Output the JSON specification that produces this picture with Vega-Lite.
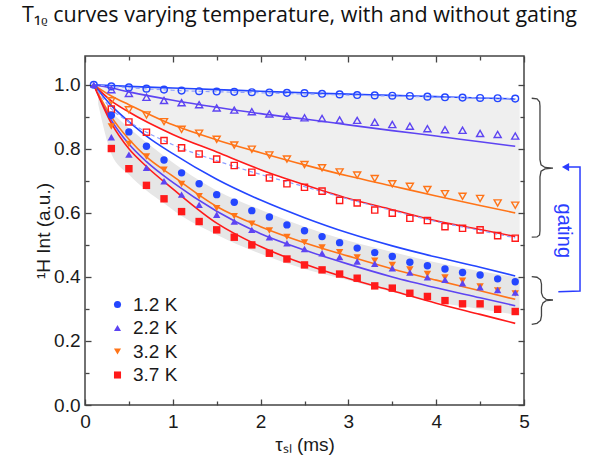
{
"$schema":"https://vega.github.io/schema/vega-lite/v6.json",
"width":439,"height":349,
"autosize":{"type":"none"},
"padding":{"left":85,"top":56,"right":66,"bottom":57},
"title":{"text":"T₁ᵨ curves varying temperature, with and without gating","anchor":"start","frame":"group","dx":-63,"offset":29,"font":"Open Sans","fontSize":21.5,"fontWeight":"normal","color":"#111"},
"config":{"view":{"stroke":"#444","strokeWidth":1.5},
"axis":{"labelFont":"Liberation Sans","titleFont":"Liberation Sans","labelFontSize":19,"titleFontSize":19,"labelColor":"#1a1a1a","titleColor":"#1a1a1a","titleFontWeight":"normal","grid":false,"domain":false,"tickColor":"#444","tickWidth":1.3,"labelFlush":false}},
"resolve":{"axis":{"x":"independent","y":"independent"}},
"datasets":{
"band1":[{"x":0.1,"y":1.0,"y2":1.0},{"x":0.3,"y":0.997,"y2":0.95},{"x":0.5,"y":0.995,"y2":0.915},{"x":1,"y":0.99,"y2":0.845},{"x":1.5,"y":0.985,"y2":0.79},{"x":2,"y":0.98,"y2":0.735},{"x":2.5,"y":0.975,"y2":0.688},{"x":3,"y":0.971,"y2":0.645},{"x":3.5,"y":0.967,"y2":0.61},{"x":4,"y":0.963,"y2":0.575},{"x":4.5,"y":0.959,"y2":0.548},{"x":4.95,"y":0.956,"y2":0.523}],
"band2":[{"x":0.15,"y":0.96,"y2":0.94},{"x":0.3,"y":0.915,"y2":0.785},{"x":0.5,"y":0.865,"y2":0.72},{"x":0.7,"y":0.82,"y2":0.67},{"x":0.9,"y":0.778,"y2":0.63},{"x":1.1,"y":0.738,"y2":0.59},{"x":1.5,"y":0.67,"y2":0.532},{"x":2,"y":0.61,"y2":0.472},{"x":2.5,"y":0.557,"y2":0.425},{"x":3,"y":0.513,"y2":0.39},{"x":3.5,"y":0.478,"y2":0.353},{"x":4,"y":0.445,"y2":0.322},{"x":4.5,"y":0.418,"y2":0.3},{"x":4.95,"y":0.398,"y2":0.28}],
"fits":[
{"g":"U","s":"1.2 K","x":0.1,"y":1.0},{"g":"U","s":"1.2 K","x":0.5,"y":0.995},{"g":"U","s":"1.2 K","x":1,"y":0.99},{"g":"U","s":"1.2 K","x":1.5,"y":0.985},{"g":"U","s":"1.2 K","x":2,"y":0.98},{"g":"U","s":"1.2 K","x":2.5,"y":0.975},{"g":"U","s":"1.2 K","x":3,"y":0.971},{"g":"U","s":"1.2 K","x":3.5,"y":0.967},{"g":"U","s":"1.2 K","x":4,"y":0.963},{"g":"U","s":"1.2 K","x":4.5,"y":0.959},{"g":"U","s":"1.2 K","x":4.9,"y":0.956},
{"g":"U","s":"2.2 K","x":0.1,"y":1.0},{"g":"U","s":"2.2 K","x":0.3,"y":0.99},{"g":"U","s":"2.2 K","x":0.5,"y":0.978},{"g":"U","s":"2.2 K","x":1,"y":0.952},{"g":"U","s":"2.2 K","x":1.5,"y":0.93},{"g":"U","s":"2.2 K","x":2,"y":0.91},{"g":"U","s":"2.2 K","x":2.5,"y":0.893},{"g":"U","s":"2.2 K","x":3,"y":0.875},{"g":"U","s":"2.2 K","x":3.5,"y":0.857},{"g":"U","s":"2.2 K","x":4,"y":0.84},{"g":"U","s":"2.2 K","x":4.5,"y":0.822},{"g":"U","s":"2.2 K","x":4.9,"y":0.808},
{"g":"U","s":"3.2 K","x":0.1,"y":1.0},{"g":"U","s":"3.2 K","x":0.3,"y":0.965},{"g":"U","s":"3.2 K","x":0.5,"y":0.938},{"g":"U","s":"3.2 K","x":1,"y":0.875},{"g":"U","s":"3.2 K","x":1.5,"y":0.828},{"g":"U","s":"3.2 K","x":2,"y":0.788},{"g":"U","s":"3.2 K","x":2.5,"y":0.75},{"g":"U","s":"3.2 K","x":3,"y":0.715},{"g":"U","s":"3.2 K","x":3.5,"y":0.684},{"g":"U","s":"3.2 K","x":4,"y":0.653},{"g":"U","s":"3.2 K","x":4.5,"y":0.623},{"g":"U","s":"3.2 K","x":4.9,"y":0.6},
{"g":"U","s":"3.7 K","x":0.1,"y":1.0},{"g":"U","s":"3.7 K","x":0.3,"y":0.95},{"g":"U","s":"3.7 K","x":0.5,"y":0.915},{"g":"U","s":"3.7 K","x":1,"y":0.845},{"g":"U","s":"3.7 K","x":1.5,"y":0.79},{"g":"U","s":"3.7 K","x":2,"y":0.735},{"g":"U","s":"3.7 K","x":2.5,"y":0.688},{"g":"U","s":"3.7 K","x":3,"y":0.645},{"g":"U","s":"3.7 K","x":3.5,"y":0.61},{"g":"U","s":"3.7 K","x":4,"y":0.575},{"g":"U","s":"3.7 K","x":4.5,"y":0.548},{"g":"U","s":"3.7 K","x":4.9,"y":0.526},
{"g":"G","s":"1.2 K","x":0.1,"y":1.0},{"g":"G","s":"1.2 K","x":0.3,"y":0.935},{"g":"G","s":"1.2 K","x":0.5,"y":0.885},{"g":"G","s":"1.2 K","x":0.7,"y":0.84},{"g":"G","s":"1.2 K","x":1,"y":0.785},{"g":"G","s":"1.2 K","x":1.5,"y":0.705},{"g":"G","s":"1.2 K","x":2,"y":0.64},{"g":"G","s":"1.2 K","x":2.5,"y":0.585},{"g":"G","s":"1.2 K","x":3,"y":0.537},{"g":"G","s":"1.2 K","x":3.5,"y":0.497},{"g":"G","s":"1.2 K","x":4,"y":0.462},{"g":"G","s":"1.2 K","x":4.5,"y":0.43},{"g":"G","s":"1.2 K","x":4.9,"y":0.403},
{"g":"G","s":"2.2 K","x":0.1,"y":1.0},{"g":"G","s":"2.2 K","x":0.3,"y":0.89},{"g":"G","s":"2.2 K","x":0.5,"y":0.815},{"g":"G","s":"2.2 K","x":0.7,"y":0.76},{"g":"G","s":"2.2 K","x":1,"y":0.695},{"g":"G","s":"2.2 K","x":1.5,"y":0.605},{"g":"G","s":"2.2 K","x":2,"y":0.535},{"g":"G","s":"2.2 K","x":2.5,"y":0.484},{"g":"G","s":"2.2 K","x":3,"y":0.44},{"g":"G","s":"2.2 K","x":3.5,"y":0.4},{"g":"G","s":"2.2 K","x":4,"y":0.366},{"g":"G","s":"2.2 K","x":4.5,"y":0.335},{"g":"G","s":"2.2 K","x":4.9,"y":0.31},
{"g":"G","s":"3.2 K","x":0.1,"y":1.0},{"g":"G","s":"3.2 K","x":0.3,"y":0.9},{"g":"G","s":"3.2 K","x":0.5,"y":0.83},{"g":"G","s":"3.2 K","x":0.7,"y":0.775},{"g":"G","s":"3.2 K","x":1,"y":0.715},{"g":"G","s":"3.2 K","x":1.5,"y":0.62},{"g":"G","s":"3.2 K","x":2,"y":0.557},{"g":"G","s":"3.2 K","x":2.5,"y":0.507},{"g":"G","s":"3.2 K","x":3,"y":0.465},{"g":"G","s":"3.2 K","x":3.5,"y":0.425},{"g":"G","s":"3.2 K","x":4,"y":0.39},{"g":"G","s":"3.2 K","x":4.5,"y":0.357},{"g":"G","s":"3.2 K","x":4.9,"y":0.33},
{"g":"G","s":"3.7 K","x":0.1,"y":1.0},{"g":"G","s":"3.7 K","x":0.3,"y":0.88},{"g":"G","s":"3.7 K","x":0.5,"y":0.8},{"g":"G","s":"3.7 K","x":0.7,"y":0.745},{"g":"G","s":"3.7 K","x":1,"y":0.675},{"g":"G","s":"3.7 K","x":1.5,"y":0.568},{"g":"G","s":"3.7 K","x":2,"y":0.495},{"g":"G","s":"3.7 K","x":2.5,"y":0.44},{"g":"G","s":"3.7 K","x":3,"y":0.395},{"g":"G","s":"3.7 K","x":3.5,"y":0.357},{"g":"G","s":"3.7 K","x":4,"y":0.318},{"g":"G","s":"3.7 K","x":4.5,"y":0.283},{"g":"G","s":"3.7 K","x":4.9,"y":0.255}],
"dash":[
{"d":"a","x":0.1,"y":1.0},{"d":"a","x":0.3,"y":0.925},{"d":"a","x":0.5,"y":0.885},{"d":"a","x":1,"y":0.813},{"d":"a","x":1.5,"y":0.763},{"d":"a","x":2,"y":0.72},{"d":"a","x":2.5,"y":0.682},{"d":"a","x":3,"y":0.643},{"d":"a","x":3.5,"y":0.607},{"d":"a","x":4,"y":0.573},{"d":"a","x":4.5,"y":0.545},{"d":"a","x":4.9,"y":0.522},
{"d":"b","x":0.1,"y":1.0},{"d":"b","x":0.5,"y":0.991},{"d":"b","x":1,"y":0.983},{"d":"b","x":2,"y":0.975},{"d":"b","x":3,"y":0.968},{"d":"b","x":4,"y":0.962},{"d":"b","x":4.9,"y":0.957}],
"open":[
{"s":"1.2 K","x":0.1,"y":1.0},{"s":"1.2 K","x":0.3,"y":0.995},{"s":"1.2 K","x":0.5,"y":0.992},{"s":"1.2 K","x":0.7,"y":0.988},{"s":"1.2 K","x":0.9,"y":0.985},{"s":"1.2 K","x":1.1,"y":0.982},{"s":"1.2 K","x":1.3,"y":0.98},{"s":"1.2 K","x":1.5,"y":0.979},{"s":"1.2 K","x":1.7,"y":0.978},{"s":"1.2 K","x":1.9,"y":0.977},{"s":"1.2 K","x":2.1,"y":0.976},{"s":"1.2 K","x":2.3,"y":0.975},{"s":"1.2 K","x":2.5,"y":0.974},{"s":"1.2 K","x":2.7,"y":0.972},{"s":"1.2 K","x":2.9,"y":0.97},{"s":"1.2 K","x":3.1,"y":0.968},{"s":"1.2 K","x":3.3,"y":0.967},{"s":"1.2 K","x":3.5,"y":0.966},{"s":"1.2 K","x":3.7,"y":0.965},{"s":"1.2 K","x":3.9,"y":0.963},{"s":"1.2 K","x":4.1,"y":0.961},{"s":"1.2 K","x":4.3,"y":0.96},{"s":"1.2 K","x":4.5,"y":0.959},{"s":"1.2 K","x":4.7,"y":0.958},{"s":"1.2 K","x":4.9,"y":0.957},
{"s":"2.2 K","x":0.3,"y":0.985},{"s":"2.2 K","x":0.5,"y":0.973},{"s":"2.2 K","x":0.7,"y":0.961},{"s":"2.2 K","x":0.9,"y":0.951},{"s":"2.2 K","x":1.1,"y":0.944},{"s":"2.2 K","x":1.3,"y":0.938},{"s":"2.2 K","x":1.5,"y":0.928},{"s":"2.2 K","x":1.7,"y":0.921},{"s":"2.2 K","x":1.9,"y":0.916},{"s":"2.2 K","x":2.1,"y":0.909},{"s":"2.2 K","x":2.3,"y":0.902},{"s":"2.2 K","x":2.5,"y":0.897},{"s":"2.2 K","x":2.7,"y":0.895},{"s":"2.2 K","x":2.9,"y":0.89},{"s":"2.2 K","x":3.1,"y":0.889},{"s":"2.2 K","x":3.3,"y":0.883},{"s":"2.2 K","x":3.5,"y":0.876},{"s":"2.2 K","x":3.7,"y":0.871},{"s":"2.2 K","x":3.9,"y":0.863},{"s":"2.2 K","x":4.1,"y":0.86},{"s":"2.2 K","x":4.3,"y":0.858},{"s":"2.2 K","x":4.5,"y":0.848},{"s":"2.2 K","x":4.7,"y":0.845},{"s":"2.2 K","x":4.9,"y":0.84},
{"s":"3.2 K","x":0.3,"y":0.95},{"s":"3.2 K","x":0.5,"y":0.922},{"s":"3.2 K","x":0.7,"y":0.906},{"s":"3.2 K","x":0.9,"y":0.885},{"s":"3.2 K","x":1.1,"y":0.861},{"s":"3.2 K","x":1.3,"y":0.849},{"s":"3.2 K","x":1.5,"y":0.83},{"s":"3.2 K","x":1.7,"y":0.812},{"s":"3.2 K","x":1.9,"y":0.799},{"s":"3.2 K","x":2.1,"y":0.781},{"s":"3.2 K","x":2.3,"y":0.768},{"s":"3.2 K","x":2.5,"y":0.751},{"s":"3.2 K","x":2.7,"y":0.741},{"s":"3.2 K","x":2.9,"y":0.728},{"s":"3.2 K","x":3.1,"y":0.718},{"s":"3.2 K","x":3.3,"y":0.707},{"s":"3.2 K","x":3.5,"y":0.691},{"s":"3.2 K","x":3.7,"y":0.683},{"s":"3.2 K","x":3.9,"y":0.673},{"s":"3.2 K","x":4.1,"y":0.66},{"s":"3.2 K","x":4.3,"y":0.652},{"s":"3.2 K","x":4.5,"y":0.645},{"s":"3.2 K","x":4.7,"y":0.631},{"s":"3.2 K","x":4.9,"y":0.624},
{"s":"3.7 K","x":0.3,"y":0.924},{"s":"3.7 K","x":0.5,"y":0.884},{"s":"3.7 K","x":0.7,"y":0.852},{"s":"3.7 K","x":0.9,"y":0.826},{"s":"3.7 K","x":1.1,"y":0.803},{"s":"3.7 K","x":1.3,"y":0.784},{"s":"3.7 K","x":1.5,"y":0.768},{"s":"3.7 K","x":1.7,"y":0.748},{"s":"3.7 K","x":1.9,"y":0.727},{"s":"3.7 K","x":2.1,"y":0.709},{"s":"3.7 K","x":2.3,"y":0.691},{"s":"3.7 K","x":2.5,"y":0.68},{"s":"3.7 K","x":2.7,"y":0.668},{"s":"3.7 K","x":2.9,"y":0.639},{"s":"3.7 K","x":3.1,"y":0.631},{"s":"3.7 K","x":3.3,"y":0.609},{"s":"3.7 K","x":3.5,"y":0.599},{"s":"3.7 K","x":3.7,"y":0.583},{"s":"3.7 K","x":3.9,"y":0.576},{"s":"3.7 K","x":4.1,"y":0.557},{"s":"3.7 K","x":4.3,"y":0.552},{"s":"3.7 K","x":4.5,"y":0.547},{"s":"3.7 K","x":4.7,"y":0.529},{"s":"3.7 K","x":4.9,"y":0.521}],
"filled":[
{"s":"3.2 K","x":0.3,"y":0.87},{"s":"3.2 K","x":0.5,"y":0.815},{"s":"3.2 K","x":0.7,"y":0.776},{"s":"3.2 K","x":0.9,"y":0.735},{"s":"3.2 K","x":1.1,"y":0.69},{"s":"3.2 K","x":1.3,"y":0.652},{"s":"3.2 K","x":1.5,"y":0.615},{"s":"3.2 K","x":1.7,"y":0.59},{"s":"3.2 K","x":1.9,"y":0.566},{"s":"3.2 K","x":2.1,"y":0.545},{"s":"3.2 K","x":2.3,"y":0.525},{"s":"3.2 K","x":2.5,"y":0.508},{"s":"3.2 K","x":2.7,"y":0.492},{"s":"3.2 K","x":2.9,"y":0.477},{"s":"3.2 K","x":3.1,"y":0.461},{"s":"3.2 K","x":3.3,"y":0.451},{"s":"3.2 K","x":3.5,"y":0.437},{"s":"3.2 K","x":3.7,"y":0.423},{"s":"3.2 K","x":3.9,"y":0.409},{"s":"3.2 K","x":4.1,"y":0.398},{"s":"3.2 K","x":4.3,"y":0.388},{"s":"3.2 K","x":4.5,"y":0.37},{"s":"3.2 K","x":4.7,"y":0.358},{"s":"3.2 K","x":4.9,"y":0.348},
{"s":"2.2 K","x":0.3,"y":0.836},{"s":"2.2 K","x":0.5,"y":0.782},{"s":"2.2 K","x":0.7,"y":0.741},{"s":"2.2 K","x":0.9,"y":0.699},{"s":"2.2 K","x":1.1,"y":0.657},{"s":"2.2 K","x":1.3,"y":0.625},{"s":"2.2 K","x":1.5,"y":0.594},{"s":"2.2 K","x":1.7,"y":0.573},{"s":"2.2 K","x":1.9,"y":0.547},{"s":"2.2 K","x":2.1,"y":0.524},{"s":"2.2 K","x":2.3,"y":0.505},{"s":"2.2 K","x":2.5,"y":0.487},{"s":"2.2 K","x":2.7,"y":0.474},{"s":"2.2 K","x":2.9,"y":0.462},{"s":"2.2 K","x":3.1,"y":0.448},{"s":"2.2 K","x":3.3,"y":0.441},{"s":"2.2 K","x":3.5,"y":0.427},{"s":"2.2 K","x":3.7,"y":0.414},{"s":"2.2 K","x":3.9,"y":0.399},{"s":"2.2 K","x":4.1,"y":0.391},{"s":"2.2 K","x":4.3,"y":0.38},{"s":"2.2 K","x":4.5,"y":0.368},{"s":"2.2 K","x":4.7,"y":0.359},{"s":"2.2 K","x":4.9,"y":0.351},
{"s":"1.2 K","x":0.3,"y":0.905},{"s":"1.2 K","x":0.5,"y":0.853},{"s":"1.2 K","x":0.7,"y":0.808},{"s":"1.2 K","x":0.9,"y":0.765},{"s":"1.2 K","x":1.1,"y":0.725},{"s":"1.2 K","x":1.3,"y":0.691},{"s":"1.2 K","x":1.5,"y":0.657},{"s":"1.2 K","x":1.7,"y":0.633},{"s":"1.2 K","x":1.9,"y":0.607},{"s":"1.2 K","x":2.1,"y":0.587},{"s":"1.2 K","x":2.3,"y":0.5625},{"s":"1.2 K","x":2.5,"y":0.544},{"s":"1.2 K","x":2.7,"y":0.526},{"s":"1.2 K","x":2.9,"y":0.507},{"s":"1.2 K","x":3.1,"y":0.49},{"s":"1.2 K","x":3.3,"y":0.476},{"s":"1.2 K","x":3.5,"y":0.464},{"s":"1.2 K","x":3.7,"y":0.446},{"s":"1.2 K","x":3.9,"y":0.435},{"s":"1.2 K","x":4.1,"y":0.425},{"s":"1.2 K","x":4.3,"y":0.414},{"s":"1.2 K","x":4.5,"y":0.406},{"s":"1.2 K","x":4.7,"y":0.394},{"s":"1.2 K","x":4.9,"y":0.385},
{"s":"3.7 K","x":0.3,"y":0.801},{"s":"3.7 K","x":0.5,"y":0.738},{"s":"3.7 K","x":0.7,"y":0.686},{"s":"3.7 K","x":0.9,"y":0.644},{"s":"3.7 K","x":1.1,"y":0.604},{"s":"3.7 K","x":1.3,"y":0.573},{"s":"3.7 K","x":1.5,"y":0.547},{"s":"3.7 K","x":1.7,"y":0.524},{"s":"3.7 K","x":1.9,"y":0.5},{"s":"3.7 K","x":2.1,"y":0.474},{"s":"3.7 K","x":2.3,"y":0.456},{"s":"3.7 K","x":2.5,"y":0.4375},{"s":"3.7 K","x":2.7,"y":0.422},{"s":"3.7 K","x":2.9,"y":0.409},{"s":"3.7 K","x":3.1,"y":0.396},{"s":"3.7 K","x":3.3,"y":0.372},{"s":"3.7 K","x":3.5,"y":0.365},{"s":"3.7 K","x":3.7,"y":0.349},{"s":"3.7 K","x":3.9,"y":0.339},{"s":"3.7 K","x":4.1,"y":0.326},{"s":"3.7 K","x":4.3,"y":0.316},{"s":"3.7 K","x":4.5,"y":0.316},{"s":"3.7 K","x":4.7,"y":0.299},{"s":"3.7 K","x":4.9,"y":0.292},
{"s":"2.2 K","x":0.1,"y":1.0}],
"brace":[
{"b":"u","o":1,"x":5.088,"y":0.958},{"b":"u","o":2,"x":5.148,"y":0.956},{"b":"u","o":3,"x":5.177,"y":0.947},{"b":"u","o":4,"x":5.182,"y":0.934},{"b":"u","o":5,"x":5.182,"y":0.766},{"b":"u","o":6,"x":5.194,"y":0.75},{"b":"u","o":7,"x":5.239,"y":0.742},{"b":"u","o":8,"x":5.33,"y":0.74},{"b":"u","o":9,"x":5.239,"y":0.7375},{"b":"u","o":10,"x":5.194,"y":0.73},{"b":"u","o":11,"x":5.182,"y":0.7125},{"b":"u","o":12,"x":5.182,"y":0.544},{"b":"u","o":13,"x":5.177,"y":0.531},{"b":"u","o":14,"x":5.148,"y":0.525},{"b":"u","o":15,"x":5.088,"y":0.524},
{"b":"l","o":1,"x":5.088,"y":0.401},{"b":"l","o":2,"x":5.148,"y":0.399},{"b":"l","o":3,"x":5.188,"y":0.391},{"b":"l","o":4,"x":5.199,"y":0.378},{"b":"l","o":5,"x":5.199,"y":0.35},{"b":"l","o":6,"x":5.216,"y":0.3375},{"b":"l","o":7,"x":5.251,"y":0.33},{"b":"l","o":8,"x":5.33,"y":0.328},{"b":"l","o":9,"x":5.251,"y":0.326},{"b":"l","o":10,"x":5.216,"y":0.319},{"b":"l","o":11,"x":5.199,"y":0.306},{"b":"l","o":12,"x":5.199,"y":0.278},{"b":"l","o":13,"x":5.188,"y":0.264},{"b":"l","o":14,"x":5.148,"y":0.255},{"b":"l","o":15,"x":5.088,"y":0.252}],
"arrow":[{"o":1,"x":5.391,"y":0.354},{"o":2,"x":5.638,"y":0.356},{"o":3,"x":5.638,"y":0.743},{"o":4,"x":5.5,"y":0.743}],
"head":[{"x":5.473,"y":0.743}],
"note":[{"x":5.45,"y":0.544,"t":"gating"}]
},
"layer":[
{"data":{"name":"band1"},"mark":{"type":"area","color":"#efefef","interpolate":"monotone"},
"encoding":{
"x":{"field":"x","type":"quantitative","scale":{"domain":[0,5],"nice":false},"axis":{"orient":"bottom","values":[0,1,2,3,4,5],"ticks":false,"labelPadding":7,"title":"τₛₗ (ms)","titlePadding":4,"zindex":1}},
"y":{"field":"y","type":"quantitative","scale":{"domain":[0,1.09],"nice":false},"axis":{"orient":"left","values":[0,0.2,0.4,0.6,0.8,1.0],"ticks":false,"format":".1f","labelPadding":5,"title":"¹H Int (a.u.)","titlePadding":0,"zindex":1}},
"y2":{"field":"y2"}}},
{"data":{"name":"band2"},"mark":{"type":"area","color":"#e6e6e6","interpolate":"monotone"},
"encoding":{
"x":{"field":"x","type":"quantitative","scale":{"domain":[0,5],"nice":false},"axis":{"orient":"bottom","values":[0,1,2,3,4,5],"labels":false,"tickSize":-6,"title":null,"zindex":1}},
"y":{"field":"y","type":"quantitative","scale":{"domain":[0,1.09],"nice":false},"axis":{"orient":"left","values":[0,0.2,0.4,0.6,0.8,1.0],"labels":false,"tickSize":-6,"title":null,"zindex":1}},
"y2":{"field":"y2"}}},
{"data":{"name":"fits"},"mark":{"type":"line","strokeWidth":1.6,"interpolate":"monotone"},
"encoding":{
"x":{"field":"x","type":"quantitative","scale":{"domain":[0,5],"nice":false},"axis":{"orient":"bottom","values":[0.5,1.5,2.5,3.5,4.5],"labels":false,"tickSize":-4,"title":null,"zindex":1}},
"y":{"field":"y","type":"quantitative","scale":{"domain":[0,1.09],"nice":false},"axis":{"orient":"left","values":[0.1,0.3,0.5,0.7,0.9],"labels":false,"tickSize":-4,"title":null,"zindex":1}},
"detail":{"field":"g"},
"stroke":{"field":"s","type":"nominal","scale":{"domain":["3.7 K","3.2 K","2.2 K","1.2 K"],"range":["#ff1a1a","#ff7418","#5d44f2","#2446ff"]},"legend":null}}},
{"data":{"name":"dash"},"mark":{"type":"line","strokeWidth":1.2,"strokeDash":[4,3],"color":"#8fa0ff","interpolate":"monotone"},
"encoding":{
"x":{"field":"x","type":"quantitative","scale":{"domain":[0,5],"nice":false},"axis":{"orient":"top","values":[0,1,2,3,4,5],"labels":false,"tickSize":-6,"title":null,"zindex":1}},
"y":{"field":"y","type":"quantitative","scale":{"domain":[0,1.09],"nice":false},"axis":{"orient":"right","values":[0,0.2,0.4,0.6,0.8,1.0],"labels":false,"tickSize":-6,"title":null,"zindex":1}},
"detail":{"field":"d"}}},
{"data":{"name":"open"},"transform":[{"filter":"datum.s === '1.2 K'"}],"mark":{"type":"point","shape":"circle","filled":false,"strokeWidth":1.4,"size":45,"opacity":1},
"encoding":{
"x":{"field":"x","type":"quantitative","scale":{"domain":[0,5],"nice":false},"axis":{"orient":"top","values":[0.5,1.5,2.5,3.5,4.5],"labels":false,"tickSize":-4,"title":null,"zindex":1}},
"y":{"field":"y","type":"quantitative","scale":{"domain":[0,1.09],"nice":false},"axis":{"orient":"right","values":[0.1,0.3,0.5,0.7,0.9],"labels":false,"tickSize":-4,"title":null,"zindex":1}},
"stroke":{"field":"s","type":"nominal","scale":{"domain":["3.7 K","3.2 K","2.2 K","1.2 K"],"range":["#ff1a1a","#ff7418","#5d44f2","#2446ff"]},"legend":null}}},
{"data":{"name":"open"},"transform":[{"filter":"datum.s === '2.2 K'"}],"mark":{"type":"point","shape":"triangle-up","filled":false,"strokeWidth":1.4,"size":50,"opacity":1},
"encoding":{
"x":{"field":"x","type":"quantitative","scale":{"domain":[0,5],"nice":false},"axis":null},
"y":{"field":"y","type":"quantitative","scale":{"domain":[0,1.09],"nice":false},"axis":null},
"stroke":{"field":"s","type":"nominal","scale":{"domain":["3.7 K","3.2 K","2.2 K","1.2 K"],"range":["#ff1a1a","#ff7418","#5d44f2","#2446ff"]},"legend":null}}},
{"data":{"name":"open"},"transform":[{"filter":"datum.s === '3.2 K'"}],"mark":{"type":"point","shape":"triangle-down","filled":false,"strokeWidth":1.4,"size":50,"opacity":1},
"encoding":{
"x":{"field":"x","type":"quantitative","scale":{"domain":[0,5],"nice":false},"axis":null},
"y":{"field":"y","type":"quantitative","scale":{"domain":[0,1.09],"nice":false},"axis":null},
"stroke":{"field":"s","type":"nominal","scale":{"domain":["3.7 K","3.2 K","2.2 K","1.2 K"],"range":["#ff1a1a","#ff7418","#5d44f2","#2446ff"]},"legend":null}}},
{"data":{"name":"open"},"transform":[{"filter":"datum.s === '3.7 K'"}],"mark":{"type":"point","shape":"square","filled":false,"strokeWidth":1.4,"size":38,"opacity":1},
"encoding":{
"x":{"field":"x","type":"quantitative","scale":{"domain":[0,5],"nice":false},"axis":null},
"y":{"field":"y","type":"quantitative","scale":{"domain":[0,1.09],"nice":false},"axis":null},
"stroke":{"field":"s","type":"nominal","scale":{"domain":["3.7 K","3.2 K","2.2 K","1.2 K"],"range":["#ff1a1a","#ff7418","#5d44f2","#2446ff"]},"legend":null}}},
{"data":{"name":"filled"},"mark":{"type":"point","filled":true,"size":55,"opacity":1},
"encoding":{
"x":{"field":"x","type":"quantitative","scale":{"domain":[0,5],"nice":false},"axis":null},
"y":{"field":"y","type":"quantitative","scale":{"domain":[0,1.09],"nice":false},"axis":null},
"color":{"field":"s","type":"nominal","scale":{"domain":["1.2 K","2.2 K","3.2 K","3.7 K"],"range":["#2446ff","#5d44f2","#ff7418","#ff1a1a"]},"legend":{"orient":"none","legendX":23,"legendY":239,"title":null,"labelFont":"Liberation Sans","labelFontSize":19,"labelColor":"#1a1a1a","symbolSize":50,"rowPadding":3.5,"labelOffset":6}},
"shape":{"field":"s","type":"nominal","scale":{"domain":["1.2 K","2.2 K","3.2 K","3.7 K"],"range":["circle","triangle-up","triangle-down","square"]},"legend":{"orient":"none","legendX":23,"legendY":239,"title":null,"labelFont":"Liberation Sans","labelFontSize":19,"labelColor":"#1a1a1a","symbolSize":50,"rowPadding":3.5,"labelOffset":6}}}},
{"data":{"name":"brace"},"mark":{"type":"line","color":"#444","strokeWidth":1.3},
"encoding":{
"x":{"field":"x","type":"quantitative","scale":{"domain":[0,5],"nice":false},"axis":null},
"y":{"field":"y","type":"quantitative","scale":{"domain":[0,1.09],"nice":false},"axis":null},
"detail":{"field":"b"},"order":{"field":"o"}}},
{"data":{"name":"arrow"},"mark":{"type":"line","color":"#2a3cff","strokeWidth":1.5},
"encoding":{
"x":{"field":"x","type":"quantitative","scale":{"domain":[0,5],"nice":false},"axis":null},
"y":{"field":"y","type":"quantitative","scale":{"domain":[0,1.09],"nice":false},"axis":null},
"order":{"field":"o"}}},
{"data":{"name":"head"},"mark":{"type":"point","shape":"triangle-left","filled":true,"color":"#2a3cff","size":70,"opacity":1},
"encoding":{
"x":{"field":"x","type":"quantitative","scale":{"domain":[0,5],"nice":false},"axis":null},
"y":{"field":"y","type":"quantitative","scale":{"domain":[0,1.09],"nice":false},"axis":null}}},
{"data":{"name":"note"},"mark":{"type":"text","angle":90,"font":"Liberation Sans","fontSize":20,"color":"#2a3cff","align":"center","baseline":"middle"},
"encoding":{
"x":{"field":"x","type":"quantitative","scale":{"domain":[0,5],"nice":false},"axis":null},
"y":{"field":"y","type":"quantitative","scale":{"domain":[0,1.09],"nice":false},"axis":null},
"text":{"field":"t"}}}
]
}
